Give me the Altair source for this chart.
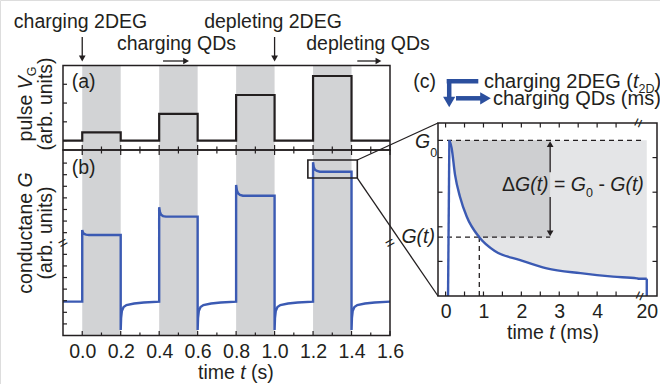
import altair as alt
import pandas as pd

FONT = "Liberation Sans"
INK = "#231f20"
BLUE = "#3b5ab3"
HEAD_BLUE = "#2b4f9e"
BAND = "#d2d3d5"
LIGHT = "#e4e5e7"
DARK = "#cecfd1"
FS = 19.5
HFS = 20.0
SUB = 12.5

# ---------------- values ----------------
# panels (a) and (b): time in s
time_major = [0.0, 0.2, 0.4, 0.6, 0.8, 1.0, 1.2, 1.4, 1.6]
time_minor = [0.1, 0.3, 0.5, 0.7, 0.9, 1.1, 1.3, 1.5]
pulse_on = [0.0, 0.4, 0.8, 1.2]
pulse_off = [0.2, 0.6, 1.0, 1.4]
pulse_level = [0.44, 1.42, 2.43, 3.44]
pulse_ticks = [0, 1, 2, 3]

g_base = 2.92
g_spike = [9.10, 11.06, 12.98, 14.94]
relax_dt = [0.004, 0.010, 0.020, 0.035]
g_relax = [[8.88, 8.76, 8.70, 8.67],
           [10.65, 10.42, 10.30, 10.25],
           [12.52, 12.27, 12.13, 12.06],
           [14.50, 14.30, 14.19, 14.13]]
recover_dt = [0.0, 0.002, 0.006, 0.015, 0.03, 0.07, 0.12, 0.2]
recover_g = [0.47, 1.5, 2.1, 2.45, 2.62, 2.76, 2.85, 2.92]
cond_ticks = [1, 2, 3, 4, 5, 6, 7, 8.87, 9.87, 10.87, 11.87, 12.87, 13.87, 14.87]
zoom_t = [1.173, 1.43]
zoom_g = [13.58, 15.14]
arrow_down_t = [0.0, 1.0]
arrow_right_t0 = [0.42, 1.43]
arrow_right_t1 = [0.54, 1.54]

# panel (c): time in ms
c_t = [0.10, 0.16, 0.25, 0.38, 0.56, 0.89, 1.30, 1.97, 2.67, 3.56, 4.42, 5.05, 19.6, 20.0]
c_g = [4.50, 4.27, 3.50, 2.87, 2.29, 1.70, 1.30, 1.04, 0.80, 0.66, 0.56, 0.51, 0.50, 0.50]
c_rise_t = [0.065, 0.10]
c_rise_g = [0.0, 4.50]
G0 = 4.5
G_t = 1.7
t_star = 0.89
t_arrow = 2.76
c_tick_t = [0, 0.5, 1, 1.5, 2, 2.5, 3, 3.5, 4, 4.5]
c_label_t = [0, 1, 2, 3, 4, 20]
c_gticks = [1, 2, 3, 4]


def disp(t):
    # broken time axis of panel (c): 5.1 ... 19.6 ms is cut out
    return t if t <= 5.1 else 5.31 - (20.0 - t) * 0.5


# ---------------- scales (explicit pixel ranges, one view) ----------------
XB = dict(domain=[-0.1, 1.6], range=[63, 390])
YA = dict(domain=[-0.5, 4.0], range=[150, 65.5])
YB = dict(domain=[0, 16], range=[335.5, 150])
XC = dict(domain=[-0.2, 5.58], range=[438, 657])
YC = dict(domain=[0, 5], range=[296, 123])
H = 384


def sx(field, s, axis=None):
    return alt.X(field, type="quantitative", scale=alt.Scale(nice=False, zero=False, **s), axis=axis)


def sy(field, s, axis=None):
    return alt.Y(field, type="quantitative", scale=alt.Scale(nice=False, zero=False, **s), axis=axis)


ONE = pd.DataFrame({"k": [0]})

W = {' ': 278, '(': 333, ')': 333, '.': 278, '-': 333, '=': 584, '0': 556, '1': 556, '2': 556,
     'D': 722, 'E': 667, 'G': 778, 'Q': 778, 'V': 667, 'a': 556, 'b': 556, 'c': 500, 'd': 556,
     'e': 556, 'g': 556, 'h': 556, 'i': 222, 'l': 222, 'm': 833, 'n': 556, 'o': 556, 'p': 556,
     'r': 333, 's': 500, 't': 278, 'u': 556, '\u0394': 668}


def tw(s, size):
    return sum(W[c] for c in s) * size / 1000.0


def T(s, x, y, size=FS, italic=False, align="left", angle=None, baseline="alphabetic", color=INK):
    kw = dict(text=s, font=FONT, fontSize=size, align=align, baseline=baseline, color=color)
    if italic:
        kw["fontStyle"] = "italic"
    if angle is not None:
        kw["angle"] = angle
    return alt.Chart(ONE).mark_text(**kw).encode(x=alt.value(x), y=alt.value(y))


def run(pieces, x, y, vertical=False):
    out = []
    sign = -1 if vertical else 1
    pos = y if vertical else x
    for s, size, italic, shift in pieces:
        lead = len(s) - len(s.lstrip(" "))
        start = pos + sign * tw(" " * lead, size)
        core = s.strip(" ")
        if vertical:
            out.append(T(core, x + shift, start, size, italic, "left", 270))
        else:
            out.append(T(core, start, y + shift, size, italic))
        pos += sign * tw(s, size)
    return out


layers = []

# ---- grey pulse bands in (a) and (b)
bands = pd.DataFrame({"on": pulse_on, "off": pulse_off, "a0": -0.5, "a1": 4.0, "b0": 0.0, "b1": 16.0})
layers.append(alt.Chart(bands).mark_rect(color=BAND).encode(x=sx("on", XB), x2="off", y=sy("a0", YA), y2="a1"))
layers.append(alt.Chart(bands).mark_rect(color=BAND).encode(x=sx("on", XB), x2="off", y=sy("b0", YB), y2="b1"))

# ---- panel (c) shaded areas
cdf = pd.DataFrame({"t": c_t, "g": c_g})
cdf["d"] = cdf["t"].map(disp)
cdf["g0"] = G0
layers.append(alt.Chart(cdf).mark_area(color=LIGHT, interpolate="monotone").encode(
    x=sx("d", XC), y=sy("g", YC), y2="g0"))
dk = cdf[cdf["t"] <= t_star][["t", "g"]].copy()
dk = pd.concat([dk, pd.DataFrame({"t": [t_arrow], "g": [G_t]})], ignore_index=True)
dk["d"] = dk["t"].map(disp)
dk["g0"] = G0
layers.append(alt.Chart(dk).mark_area(color=DARK, interpolate="monotone").encode(
    x=sx("d", XC), y=sy("g", YC), y2="g0"))

# ---- panel (a) pulse train
st, sv = [-0.1], [0.0]
for on, off, lv in zip(pulse_on, pulse_off, pulse_level):
    st += [on, off]
    sv += [lv, 0.0]
st.append(1.6)
sv.append(0.0)
pulse = pd.DataFrame({"t": st, "v": sv})
layers.append(alt.Chart(pulse).mark_line(interpolate="step-after", color=INK, strokeWidth=2.2).encode(
    x=sx("t", XB), y=sy("v", YA)))

# ---- panel (b) conductance
gt, gg = [-0.1], [g_base]
for k, (on, off) in enumerate(zip(pulse_on, pulse_off)):
    gt += [on, on]
    gg += [g_base, g_spike[k]]
    for dt, v in zip(relax_dt, g_relax[k]):
        gt.append(on + dt)
        gg.append(v)
    gt.append(off)
    gg.append(g_relax[k][-1])
    for dt, v in zip(recover_dt, recover_g):
        gt.append(off + dt)
        gg.append(v)
cond = pd.DataFrame({"t": gt, "g": gg, "i": range(len(gt))})
layers.append(alt.Chart(cond).mark_line(color=BLUE, strokeWidth=2.4).encode(
    x=sx("t", XB), y=sy("g", YB), order=alt.Order("i:Q")))

# ---- panel (c) dashed guides
dash = dict(color=INK, strokeWidth=1.3, strokeDash=[5, 4])
layers.append(alt.Chart(pd.DataFrame({"x0": [-0.2], "x1": [5.21], "g": [G0]})).mark_rule(**dash).encode(
    x=sx("x0", XC), x2="x1", y=sy("g", YC)))
layers.append(alt.Chart(pd.DataFrame({"x0": [-0.2], "x1": [t_arrow], "g": [G_t]})).mark_rule(**dash).encode(
    x=sx("x0", XC), x2="x1", y=sy("g", YC)))
layers.append(alt.Chart(pd.DataFrame({"t": [t_star], "g0": [0.0], "g1": [G_t]})).mark_rule(**dash).encode(
    x=sx("t", XC), y=sy("g0", YC), y2="g1"))

# ---- panel (c) double arrow
layers.append(alt.Chart(pd.DataFrame({"t": [t_arrow, t_arrow], "a": [3.58, 1.80], "b": [4.40, 2.86]})).mark_rule(
    color=INK, strokeWidth=1.3).encode(x=sx("t", XC), y=sy("a", YC), y2="b"))
layers.append(alt.Chart(pd.DataFrame({"t": [t_arrow], "g": [G0 - 0.11]})).mark_point(
    shape="triangle-up", filled=True, size=45, color=INK, opacity=1).encode(x=sx("t", XC), y=sy("g", YC)))
layers.append(alt.Chart(pd.DataFrame({"t": [t_arrow], "g": [G_t + 0.11]})).mark_point(
    shape="triangle-down", filled=True, size=45, color=INK, opacity=1).encode(x=sx("t", XC), y=sy("g", YC)))

# ---- panel (c) curve
layers.append(alt.Chart(cdf).mark_line(color=BLUE, strokeWidth=2.4, interpolate="monotone").encode(
    x=sx("d", XC), y=sy("g", YC)))
rise = pd.DataFrame({"d": c_rise_t, "g": c_rise_g})
layers.append(alt.Chart(rise).mark_line(color=BLUE, strokeWidth=2.4).encode(x=sx("d", XC), y=sy("g", YC)))
layers.append(alt.Chart(pd.DataFrame({"d": [disp(20.0)], "a": [c_g[-1]], "b": [0.0]})).mark_rule(
    color=BLUE, strokeWidth=2.4).encode(x=sx("d", XC), y=sy("a", YC), y2="b"))


# ---- ticks
def hticks(values, s, y0, y1, axis=None):
    return alt.Chart(pd.DataFrame({"v": values})).mark_rule(color=INK, strokeWidth=1.2).encode(
        x=sx("v", s, axis), y=alt.value(y0), y2=alt.value(y1))


def vticks(values, s, x0, x1):
    return alt.Chart(pd.DataFrame({"v": values})).mark_rule(color=INK, strokeWidth=1.2).encode(
        y=sy("v", s), x=alt.value(x0), x2=alt.value(x1))


axis_b = alt.Axis(orient="bottom", offset=335.5 - H, values=time_major, format=".1f", ticks=False,
                  tickSize=0, domain=False, grid=False, labelFont=FONT, labelFontSize=FS,
                  labelColor=INK, labelPadding=21.5, labelBaseline="alphabetic", labelFlush=False,
                  labelOverlap=False, title=None)
axis_c = alt.Axis(orient="bottom", offset=296 - H, values=[disp(v) for v in c_label_t], format="d",
                  labelExpr="datum.value > 5 ? '20' : datum.label", ticks=False, tickSize=0,
                  domain=False, grid=False, labelFont=FONT, labelFontSize=FS, labelColor=INK,
                  labelPadding=21, labelBaseline="alphabetic", labelFlush=False, labelOverlap=False,
                  title=None)

layers.append(hticks(time_major, XB, 150, 145))
layers.append(hticks(time_minor, XB, 150, 146.5))
layers.append(hticks(time_major, XB, 150, 155))
layers.append(hticks(time_minor, XB, 150, 153.5))
layers.append(hticks(time_major, XB, 335.5, 331, axis_b))
layers.append(hticks(time_minor, XB, 335.5, 332.5))
layers.append(vticks(pulse_ticks, YA, 63, 67))
layers.append(vticks(cond_ticks, YB, 63, 67))
layers.append(hticks(c_tick_t, XC, 123, 127.5))
layers.append(hticks(c_tick_t, XC, 296, 291.5, axis_c))
layers.append(vticks(c_gticks, YC, 438, 442.5))
layers.append(vticks(c_gticks, YC, 657, 652.5))


# ---- frames
def frame(x0, x1, y0, y1, s_x, s_y, width=1.5):
    df = pd.DataFrame({"x0": [x0], "x1": [x1], "y0": [y0], "y1": [y1]})
    return alt.Chart(df).mark_rect(fillOpacity=0, stroke=INK, strokeWidth=width).encode(
        x=sx("x0", s_x), x2="x1", y=sy("y0", s_y), y2="y1")


layers.append(frame(-0.1, 1.6, -0.5, 4.0, XB, YA))
layers.append(frame(-0.1, 1.6, 0.0, 16.0, XB, YB))
layers.append(frame(-0.2, 5.58, 0.0, 5.0, XC, YC))
layers.append(frame(zoom_t[0], zoom_t[1], zoom_g[0], zoom_g[1], XB, YB, 1.6))

# ---- zoom connectors
layers.append(alt.Chart(pd.DataFrame({"t": [zoom_t[1]], "g": [zoom_g[1]]})).mark_rule(color=INK, strokeWidth=1.3).encode(
    x=sx("t", XB), y=sy("g", YB), x2=alt.value(438), y2=alt.value(123)))
layers.append(alt.Chart(pd.DataFrame({"t": [zoom_t[1]], "g": [zoom_g[0]]})).mark_rule(color=INK, strokeWidth=1.3).encode(
    x=sx("t", XB), y=sy("g", YB), x2=alt.value(438), y2=alt.value(296)))

# ---- top annotation arrows
dn = pd.DataFrame({"t": arrow_down_t})
layers.append(alt.Chart(dn).mark_rule(color=INK, strokeWidth=1.3).encode(
    x=sx("t", XB), y=alt.value(37), y2=alt.value(56)))
layers.append(alt.Chart(dn).mark_point(shape="triangle-down", filled=True, size=45, color=INK, opacity=1).encode(
    x=sx("t", XB), y=alt.value(58.5)))
rt = pd.DataFrame({"t0": arrow_right_t0, "t1": arrow_right_t1})
layers.append(alt.Chart(rt).mark_rule(color=INK, strokeWidth=1.3).encode(
    x=sx("t0", XB), x2="t1", y=alt.value(61)))
layers.append(alt.Chart(rt).mark_point(shape="triangle-right", filled=True, size=45, color=INK, opacity=1).encode(
    x=sx("t1", XB), y=alt.value(61)))


# ---- header arrows of (c)
def hrule(x0, x1, y, w=4.5):
    return alt.Chart(ONE).mark_rule(color=HEAD_BLUE, strokeWidth=w).encode(
        x=alt.value(x0), x2=alt.value(x1), y=alt.value(y))


layers.append(hrule(446.7, 478.3, 81.2))
layers.append(alt.Chart(ONE).mark_rule(color=HEAD_BLUE, strokeWidth=4.5).encode(
    x=alt.value(449.2), y=alt.value(79), y2=alt.value(99)))
layers.append(alt.Chart(ONE).mark_point(shape="triangle-down", filled=True, size=150, color=HEAD_BLUE, opacity=1).encode(
    x=alt.value(449.2), y=alt.value(102)))
layers.append(hrule(456, 483, 98.3))
layers.append(alt.Chart(ONE).mark_point(shape="triangle-right", filled=True, size=150, color=HEAD_BLUE, opacity=1).encode(
    x=alt.value(485.5), y=alt.value(98.3)))

# ---- axis breaks
layers.append(T("=", 63, 243, 16, angle=330, align="center", baseline="middle"))
layers.append(T("=", 390, 243, 16, angle=330, align="center", baseline="middle"))
layers.append(T("=", 638.5, 123, 16, angle=295, align="center", baseline="middle"))
layers.append(T("=", 640, 296, 16, angle=295, align="center", baseline="middle"))

# ---- texts
layers.append(T("charging 2DEG", 80.5, 28.3, align="center"))
layers.append(T("charging QDs", 176.5, 50, align="center"))
layers.append(T("depleting 2DEG", 273, 28.3, align="center"))
layers.append(T("depleting QDs", 368, 50, align="center"))
layers.append(T("(a)", 71.7, 88))
layers.append(T("(b)", 71.7, 174))
layers.append(T("(c)", 413.3, 88))
layers += run([("charging 2DEG (", HFS, False, 0), ("t", HFS, True, 0), ("2D", SUB, False, 5),
               (")", HFS, False, 0)], 484, 87.5)
layers.append(T("charging QDs (ms)", 493, 105, size=HFS))
layers += run([("G", FS, True, 0), ("0", SUB, False, 9)], 415, 148)
layers.append(T("G(t)", 435, 243, italic=True, align="right"))
layers += run([("\u0394", FS, False, 0), ("G(t)", FS, True, 0), (" = ", FS, False, 0), ("G", FS, True, 0),
               ("0", SUB, False, 6), (" - ", FS, False, 0), ("G(t)", FS, True, 0)], 502, 191)
layers += run([("time ", FS, False, 0), ("t", FS, True, 0), (" (s)", FS, False, 0)], 198, 378.5)
layers += run([("time ", FS, False, 0), ("t", FS, True, 0), (" (ms)", FS, False, 0)], 507, 338.5)

pa = [("pulse ", FS, False, 0), ("V", FS, True, 0), ("G", SUB, False, 4)]
pa_len = sum(tw(s, z) for s, z, _, _ in pa)
layers += run(pa, 32, 104 + pa_len / 2, vertical=True)
layers.append(T("(arb. units)", 52, 104, angle=270, align="center"))
pb = [("conductane ", FS, False, 0), ("G", FS, True, 0)]
pb_len = sum(tw(s, z) for s, z, _, _ in pb)
layers += run(pb, 32, 233 + pb_len / 2, vertical=True)
layers.append(T("(arb. units)", 52, 233, angle=270, align="center"))

chart = alt.layer(*layers).resolve_scale(x="independent", y="independent").properties(
    width=660, height=384, autosize=alt.AutoSizeParams(type="none"), padding=0
).configure_view(stroke=None).configure(background="white")

chart.save("out.html", embed_options={"renderer": "svg", "actions": False})
